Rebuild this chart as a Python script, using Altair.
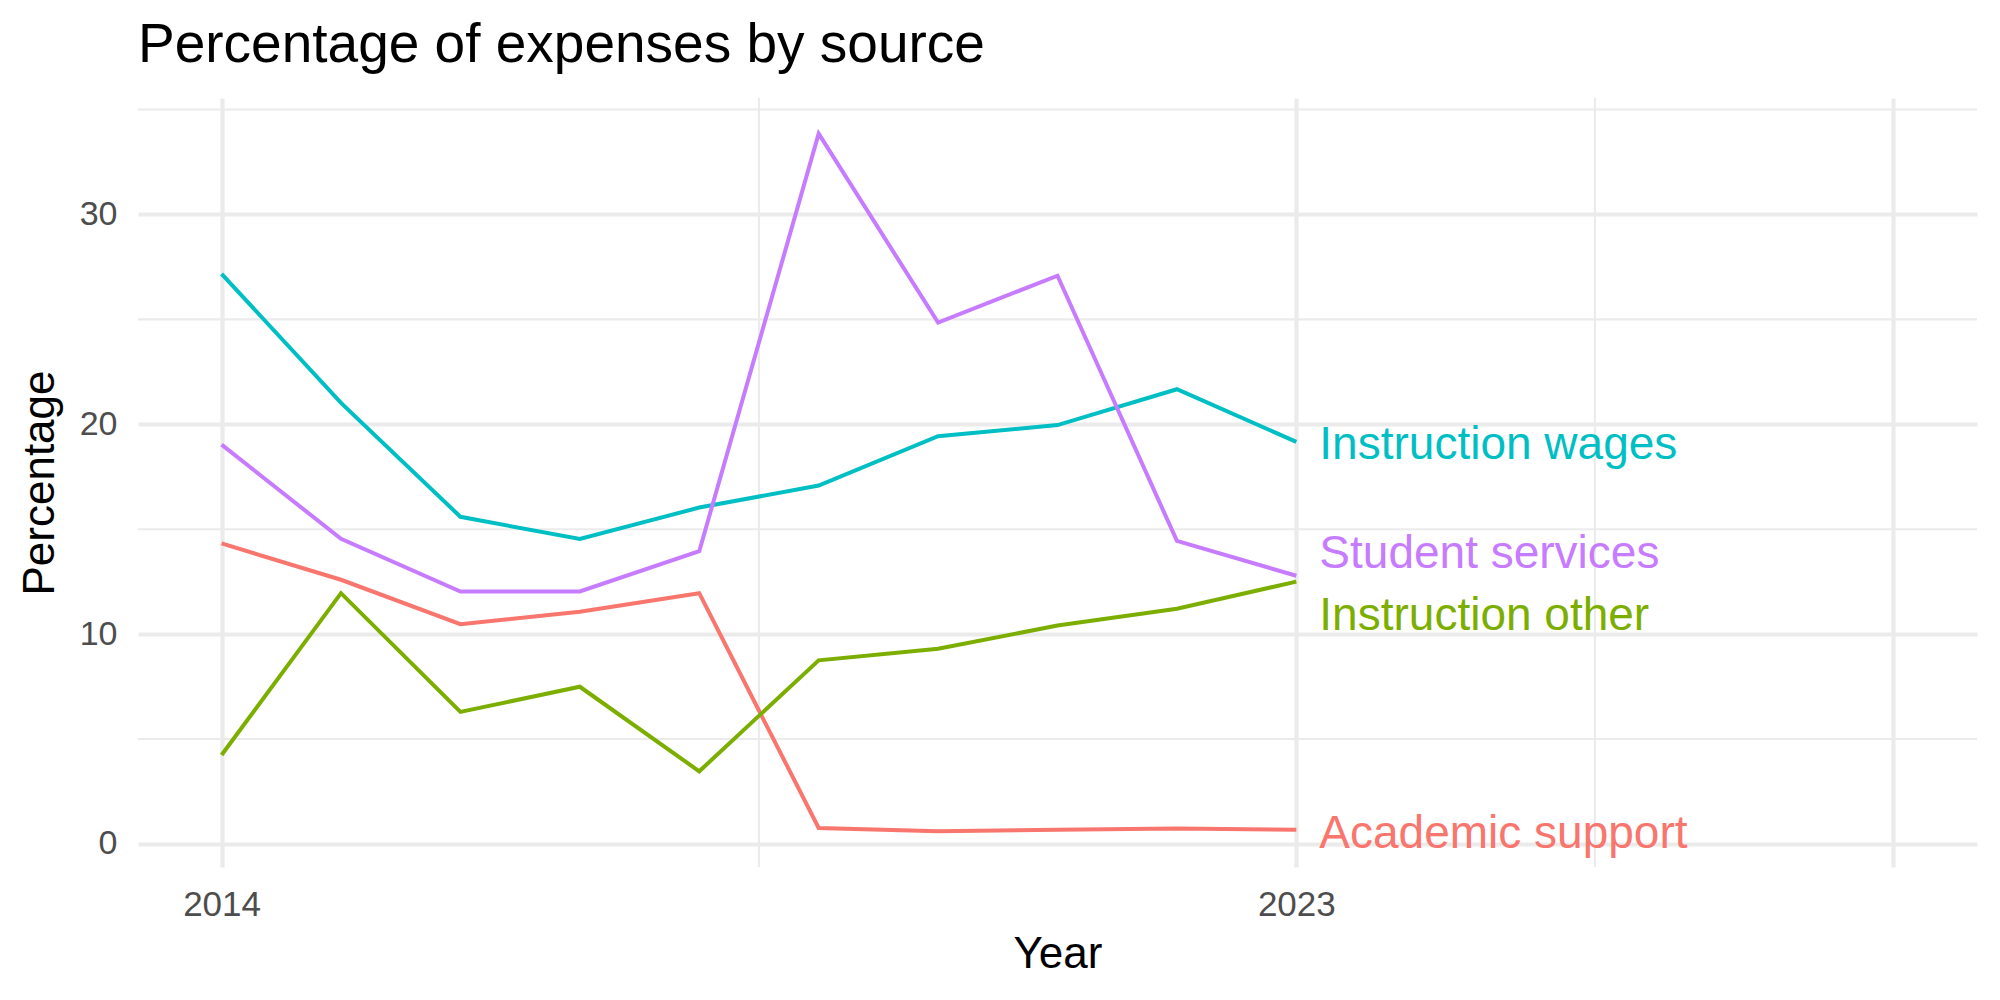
import altair as alt
import pandas as pd

# Expense shares (%) per year and source
years = [2014, 2015, 2016, 2017, 2018, 2019, 2020, 2021, 2022, 2023]
academic_support = [14.32, 12.59, 10.47, 11.07, 11.95, 0.76, 0.60, 0.67, 0.74, 0.67]
instruction_other = [4.24, 11.95, 6.29, 7.49, 3.46, 8.75, 9.30, 10.41, 11.21, 12.50]
instruction_wages = [27.17, 21.02, 15.59, 14.53, 16.03, 17.08, 19.43, 19.96, 21.67, 19.16]
student_services = [19.03, 14.54, 12.03, 12.03, 13.95, 33.85, 24.85, 27.08, 14.44, 12.78]

sources = ["Academic support", "Instruction other", "Instruction wages", "Student services"]
palette = ["#F8766D", "#7CAE00", "#00BFC4", "#C77CFF"]

# End-of-line label heights, spread apart so they do not overlap
label_heights = [0.63, 11.0, 19.14, 13.97]

# Grid breaks
x_major = [2014, 2023, 2028]
x_minor = [2018.5, 2025.5]
y_major = [0, 10, 20, 30]
y_minor = [5, 15, 25, 35]

series = {
    "Academic support": academic_support,
    "Instruction other": instruction_other,
    "Instruction wages": instruction_wages,
    "Student services": student_services,
}
rows = []
for name, vals in series.items():
    for yr, v in zip(years, vals):
        rows.append({"Year": yr, "Percentage": v, "source": name})
df = pd.DataFrame(rows)

labels = pd.DataFrame({
    "source": sources,
    "Year": [years[-1]] * len(sources),
    "Percentage": label_heights,
})

FONT = "Liberation Sans"
GRID = "#EBEBEB"

x_scale = alt.Scale(domain=[2013.3, 2028.7], nice=False, zero=False)
y_scale = alt.Scale(domain=[-1.1, 35.55], nice=False, zero=False)
color_scale = alt.Scale(domain=sources, range=palette)

x_axis = alt.Axis(
    values=x_major, format="d",
    labelExpr="datum.value == 2028 ? '' : datum.label",
    grid=True, gridColor=GRID, gridWidth=4.2,
    ticks=False, domain=False,
    labelFont=FONT, labelFontSize=35, labelColor="#4D4D4D", labelPadding=20,
    title="Year", titleFont=FONT, titleFontSize=44, titleFontWeight="normal",
    titleColor="black", titleBaseline="alphabetic", titleY=100,
)
y_axis = alt.Axis(
    values=y_major,
    grid=True, gridColor=GRID, gridWidth=4.2,
    ticks=False, domain=False,
    labelFont=FONT, labelFontSize=34, labelColor="#4D4D4D", labelPadding=21,
    title="Percentage", titleFont=FONT, titleFontSize=44, titleFontWeight="normal",
    titleColor="black", titleAngle=270, titleBaseline="alphabetic",
    titleAlign="center", titleX=-85, titleY=384.5,
)

minor_x = alt.Chart(pd.DataFrame({"Year": x_minor})).mark_rule(
    color=GRID, strokeWidth=2.1
).encode(x=alt.X("Year:Q", scale=x_scale, axis=x_axis))

minor_y = alt.Chart(pd.DataFrame({"Percentage": y_minor})).mark_rule(
    color=GRID, strokeWidth=2.1
).encode(y=alt.Y("Percentage:Q", scale=y_scale, axis=y_axis))

lines = alt.Chart(df).mark_line(strokeWidth=4).encode(
    x=alt.X("Year:Q", scale=x_scale, axis=x_axis),
    y=alt.Y("Percentage:Q", scale=y_scale, axis=y_axis),
    color=alt.Color("source:N", scale=color_scale, legend=None),
    detail="source:N",
)

text = alt.Chart(labels).mark_text(
    align="left", baseline="middle", dx=23, dy=3, font=FONT, fontSize=46
).encode(
    x=alt.X("Year:Q", scale=x_scale, axis=x_axis),
    y=alt.Y("Percentage:Q", scale=y_scale, axis=y_axis),
    text="source:N",
    color=alt.Color("source:N", scale=color_scale, legend=None),
)

chart = alt.layer(minor_x, minor_y, lines, text).properties(
    width=1839,
    height=769,
    background="white",
    title=alt.TitleParams(
        "Percentage of expenses by source",
        anchor="start", frame="group", font=FONT, fontSize=55,
        fontWeight="normal", color="black", baseline="alphabetic", offset=-20,
    ),
    autosize=alt.AutoSizeParams(type="none"),
    padding={"left": 138, "top": 98, "right": 23, "bottom": 133},
).configure_view(stroke=None)

chart.save("out.html", embed_options={"renderer": "svg", "actions": False})
